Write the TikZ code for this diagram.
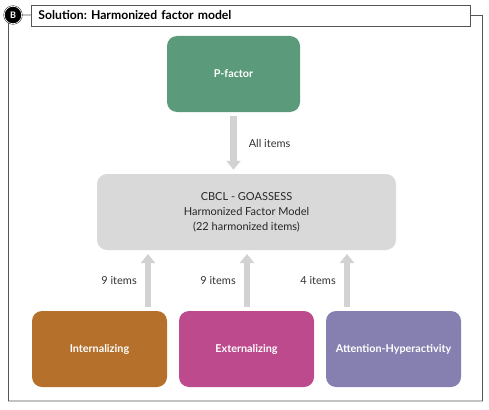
\documentclass[tikz,border=0pt]{standalone}
\usepackage{fontspec}
\setmainfont{Lato}
\usepackage{xcolor}
\usetikzlibrary{arrows.meta,positioning}
\frenchspacing
\definecolor{pfgreen}{HTML}{5B9B7B}
\definecolor{intbrown}{HTML}{B5702C}
\definecolor{extpink}{HTML}{BE4A8E}
\definecolor{attpurple}{HTML}{8580B0}
\definecolor{modgray}{HTML}{D9D9D9}
\definecolor{arrgray}{HTML}{D2D2D2}
\definecolor{framegray}{HTML}{555555}

\begin{document}
\begin{tikzpicture}[x=1pt, y=-1pt, every node/.style={font=\fontsize{11}{15}\selectfont},
  factor/.style={rounded corners=10pt, minimum width=135pt, minimum height=76pt,
    text=white, font=\fontsize{10.8}{12}\selectfont\bfseries},
  itemlabel/.style={inner sep=0pt, text=black!80},
  fatarrow/.style={draw=arrgray, line width=6.5pt, -{Triangle[width=14pt,length=9pt]},
    shorten <=4pt, shorten >=4pt},
  frame/.style={draw=framegray, line width=0.9pt}]
  \useasboundingbox (0,0) rectangle (489,409);
  % Badge and title
  \node[circle, fill=black, draw=black, double=white, double distance=0.7pt,
    minimum size=17.5pt, inner sep=0pt, text=white, font=\fontsize{9}{9}\selectfont\bfseries] (badge) at (13,15) {B};
  \node[frame, anchor=west, minimum height=21pt, text width=425pt, inner xsep=7pt,
    font=\fontsize{12.2}{14}\selectfont\bfseries] (title) at (31,15.5) {Solution: Harmonized factor model};
  \coordinate (bl) at (8.5,401);
  \coordinate (br) at (482.5,401);
  \draw[frame] (badge) -- (title);
  \draw[frame] (badge.240) -- (bl) -- (br) -- (br |- title.east) -- (title.east);
  % General factor
  \node[factor, fill=pfgreen, minimum width=133pt] (pf) at (233.5,74) {P-factor};
  % Harmonized model
  \node[rounded corners=10pt, fill=modgray, minimum width=299pt, minimum height=76pt,
    align=center, text=black!85] (model) at (246.5,212)
    {CBCL - GOASSESS\\Harmonized Factor Model\\(22 harmonized items)};
  % Specific factors
  \node[factor, fill=intbrown] (int) at (99.5,349) {Internalizing};
  \node[factor, fill=extpink] (ext) at (246.5,349) {Externalizing};
  \node[factor, fill=attpurple] (att) at (393.5,349) {Attention-Hyperactivity};
  % Arrows
  \draw[fatarrow] (pf.south) -- (pf.south |- model.north)
    node[midway, right=12pt, itemlabel] {All items};
  \coordinate (a1) at (148,250);
  \coordinate (a2) at (247,250);
  \coordinate (a3) at (347,250);
  \draw[fatarrow] (a1 |- int.north) -- (a1) node[midway, left=8pt, itemlabel] {9 items};
  \draw[fatarrow] (a2 |- ext.north) -- (a2) node[midway, left=8pt, itemlabel] {9 items};
  \draw[fatarrow] (a3 |- att.north) -- (a3) node[midway, left=8pt, itemlabel] {4 items};
\end{tikzpicture}
\end{document}
